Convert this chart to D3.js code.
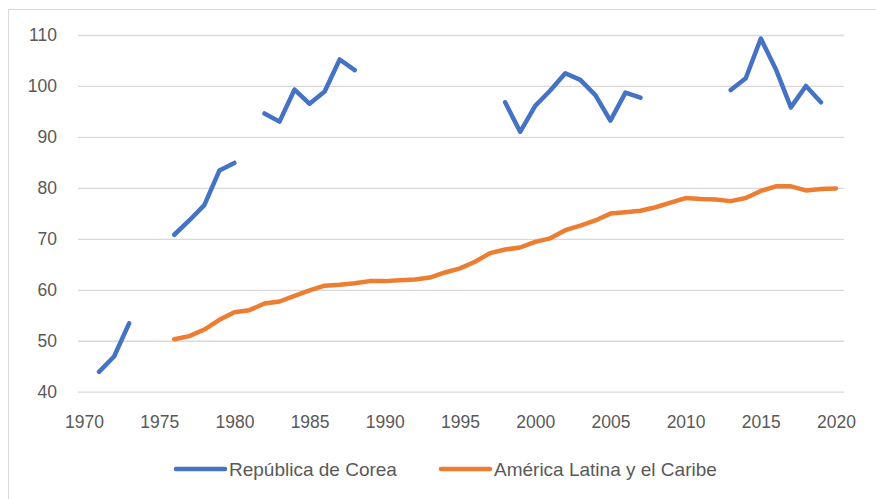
<!DOCTYPE html>
<html>
<head>
<meta charset="utf-8">
<script src="https://cdn.jsdelivr.net/npm/d3@7"></script>
<style>
  body { margin: 0; background: #fff; }
  svg text { font-family: "Liberation Sans", Arial, sans-serif; fill: #595959; }
</style>
</head>
<body>
<div class="display-svg"></div>
<script>
var years = d3.range(1970, 2021);
var xTicks = [1970, 1975, 1980, 1985, 1990, 1995, 2000, 2005, 2010, 2015, 2020];
var yTicks = [40, 50, 60, 70, 80, 90, 100, 110];
var seriesNames = ['República de Corea', 'América Latina y el Caribe'];

// 1970 .. 2020, null = no data
var korea = [
  null, 43.9, 46.9, 53.4, null, null, 70.8, 73.6, 76.6, 83.4,
  84.9, null, 94.6, 93.0, 99.3, 96.5, 98.9, 105.2, 103.1, null,
  null, null, null, null, null, null, null, null, 96.8, 91.0,
  96.1, 99.1, 102.5, 101.2, 98.2, 93.2, 98.7, 97.7, null, null,
  null, null, null, 99.2, 101.5, 109.3, 103.3, 95.8, 100.0, 96.8,
  null
];
var latam = [
  null, null, null, null, null, null, 50.3, 50.9, 52.2, 54.1,
  55.6, 56.0, 57.3, 57.7, 58.8, 59.9, 60.8, 61.0, 61.3, 61.7,
  61.7, 61.85, 62.0, 62.4, 63.4, 64.2, 65.5, 67.2, 67.9, 68.3,
  69.4, 70.1, 71.7, 72.6, 73.6, 74.95, 75.2, 75.5, 76.2, 77.1,
  78.0, 77.8, 77.7, 77.4, 78.0, 79.4, 80.3, 80.3, 79.5, 79.8,
  79.9
];

var width = 876, height = 499;
var colors = ['#4472C4', '#ED7D31'];

var svg = d3.select('.display-svg').append('svg')
  .attr('width', width)
  .attr('height', height);

// chart frame
svg.append('rect')
  .attr('x', 8.5).attr('y', 9.5)
  .attr('width', 900).attr('height', 600)
  .attr('fill', 'none')
  .attr('stroke', '#d9d9d9');

var xScale = d3.scaleLinear().domain([1970, 2020]).range([84, 836]);
var yScale = d3.scaleLinear().domain([40, 110]).range([391.7, 35]);

var gridLeft = 78, gridRight = 844;

// y axis with gridlines
var yAxis = d3.axisLeft(yScale)
  .tickValues(yTicks)
  .tickSize(-(gridRight - gridLeft))
  .tickPadding(21);

var yG = svg.append('g')
  .attr('transform', 'translate(' + gridLeft + ',0)')
  .call(yAxis);
yG.select('.domain').remove();
yG.selectAll('line').attr('stroke', '#d9d9d9').attr('stroke-width', 1.3);
yG.selectAll('text').style('font-size', '17.5px').attr('fill', '#595959');

// x axis labels
var xAxis = d3.axisBottom(xScale)
  .tickValues(xTicks)
  .tickFormat(d3.format('d'))
  .tickSize(0)
  .tickPadding(24);

var xG = svg.append('g')
  .attr('transform', 'translate(0,' + yScale(40) + ')')
  .call(xAxis);
xG.select('.domain').remove();
xG.selectAll('text').style('font-size', '17.5px').attr('fill', '#595959');

var line = d3.line()
  .defined(d => d != null)
  .x((d, i) => xScale(years[i]))
  .y(d => yScale(d));

[korea, latam].forEach((s, k) => {
  svg.append('path')
    .datum(s)
    .attr('d', line)
    .attr('fill', 'none')
    .attr('stroke', colors[k])
    .attr('stroke-width', 4.5)
    .attr('stroke-linecap', 'round')
    .attr('stroke-linejoin', 'round');
});

// legend
var legendX = [176, 441];
seriesNames.forEach((name, k) => {
  var g = svg.append('g').attr('transform', 'translate(' + legendX[k] + ',469)');
  g.append('line')
    .attr('x1', 0).attr('x2', 49)
    .attr('y1', 0).attr('y2', 0)
    .attr('stroke', colors[k])
    .attr('stroke-width', 4.5)
    .attr('stroke-linecap', 'round');
  g.append('text')
    .attr('x', 53)
    .attr('dy', '0.35em')
    .style('font-size', '19px')
    .text(name);
});
</script>
</body>
</html>
